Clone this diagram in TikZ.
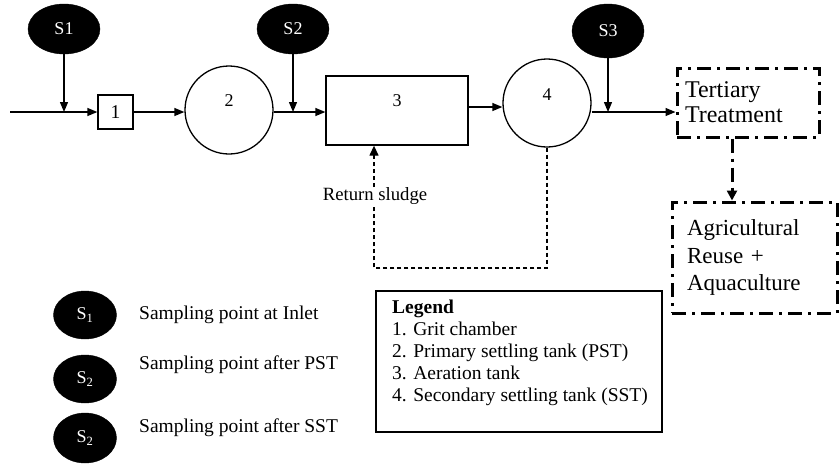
\documentclass[tikz,border=0pt]{standalone}
\usepackage{fontspec}
\setmainfont{Liberation Serif}
\usetikzlibrary{arrows.meta,shapes.geometric}
\begin{document}
\begin{tikzpicture}[x=1pt,y=-1pt,
  every node/.style={font=\fontsize{19.5}{22}\selectfont},
  ln/.style={line width=1.3pt},
  arr/.style={ln,-{Triangle[length=10pt,width=8pt]}},
  spt/.style={ellipse,fill=black,draw=black,minimum width=72pt,minimum height=50pt,inner sep=0pt,text=white,font=\fontsize{18}{20}\selectfont},
  lspt/.style={ellipse,fill=black,draw=black,minimum width=63pt,minimum height=48pt,inner sep=0pt,text=white,font=\fontsize{18}{20}\selectfont},
  tank/.style={circle,draw,ln,minimum size=88pt,inner sep=0pt},
  sq/.style={rectangle,draw,ln,inner sep=0pt},
  dd/.style={line width=3pt,dash pattern=on 14pt off 6pt on 3pt off 6pt},
  dsh/.style={line width=1.3pt,dash pattern=on 4pt off 3pt},
]
\useasboundingbox (0,0) rectangle (840,464);

% sampling points
\node[spt] (s1) at (64,29) {S1};
\node[spt] (s2) at (293,29) {S2};
\node[spt,minimum height=54pt] (s3) at (608,31) {S3};

% process units
\coordinate (in) at (10,112);
\node[sq,minimum width=35pt,minimum height=34pt] (b1) at (115.5,112) {\raisebox{-4pt}{1}};
\node[tank,label={[yshift=9pt,font=\fontsize{18}{20}\selectfont]center:2}] (c2) at (229,110) {};
\node[sq,minimum width=142pt,minimum height=69pt,label={[yshift=10pt,font=\fontsize{18}{20}\selectfont]center:3}] (b3) at (397,110.5) {};
\node[tank,label={[yshift=8pt,font=\fontsize{18}{20}\selectfont]center:4}] (c4) at (547,103) {};

\node[draw,dd,minimum width=142pt,minimum height=69pt,inner xsep=8pt,text width=126pt,align=left,
  font=\fontsize{24}{25}\selectfont] (T) at (748,102.5) {Tertiary\\Treatment};
\node[draw,dd,minimum width=165pt,minimum height=111pt,inner xsep=15pt,text width=135pt,align=left,
  font=\fontsize{23}{27.5}\selectfont] (A) at (754.5,257.5) {Agricultural\\Reuse +\\Aquaculture};

% main flow
\draw[arr] (in) -- (b1.west);
\draw[arr] (b1.east) -- (c2.west |- b1.east);
\draw[arr] (c2.east |- 0,112) -- (b3.west |- 0,112);
\draw[arr] (b3.east |- 0,107) -- (c4.west |- 0,107);
\draw[arr] (c4.east |- 0,112) -- (T.west |- 0,112);

% sampling arrows
\draw[arr] (s1.south) -- (s1.south |- in);
\draw[arr] (s2.south) -- (s2.south |- 0,112);
\draw[arr] (s3.south) -- (s3.south |- 0,112);

% tertiary to reuse
\draw[dd,-{Triangle[length=10pt,width=10pt]}] ([xshift=-16pt]T.south) -- ([xshift=-16pt]T.south |- A.north);

% return sludge
\coordinate (r1) at (c4.south |- 0,268);
\coordinate (r2) at (374,268);
\draw[dsh] (c4.south) -- (r1) -- (r2) -- (374,205);
\draw[dsh] (374,187) -- (374,160);
\node[inner sep=0pt,font=\fontsize{18.7}{20}\selectfont] (rs) at (375,196) {Return sludge};
\draw[ln,-{Triangle[length=10pt,width=9pt]}] (374,159) -- (b3.south -| 374,0);

% legend of sampling points
\node[lspt] (l1) at (85,315) {S\textsubscript{1}};
\node[lspt] (l2) at (85,379) {S\textsubscript{2}};
\node[lspt,minimum height=50pt] (l3) at (85,438) {S\textsubscript{2}};
\node[anchor=west,inner sep=0pt] (t1) at (139,315) {Sampling point at Inlet};
\node[anchor=west,inner sep=0pt] (t2) at (139,365) {Sampling point after PST};
\node[anchor=west,inner sep=0pt] (t3) at (139,428) {Sampling point after SST};

% legend box
\node[sq,minimum width=286pt,minimum height=141pt] (L) at (519,361.5) {};
\node[anchor=north west,inner sep=0pt,align=left] (Lt) at (392,300) {\textbf{Legend}\\1. Grit chamber\\2. Primary settling tank (PST)\\3. Aeration tank\\4. Secondary settling tank (SST)};
\end{tikzpicture}
\end{document}
